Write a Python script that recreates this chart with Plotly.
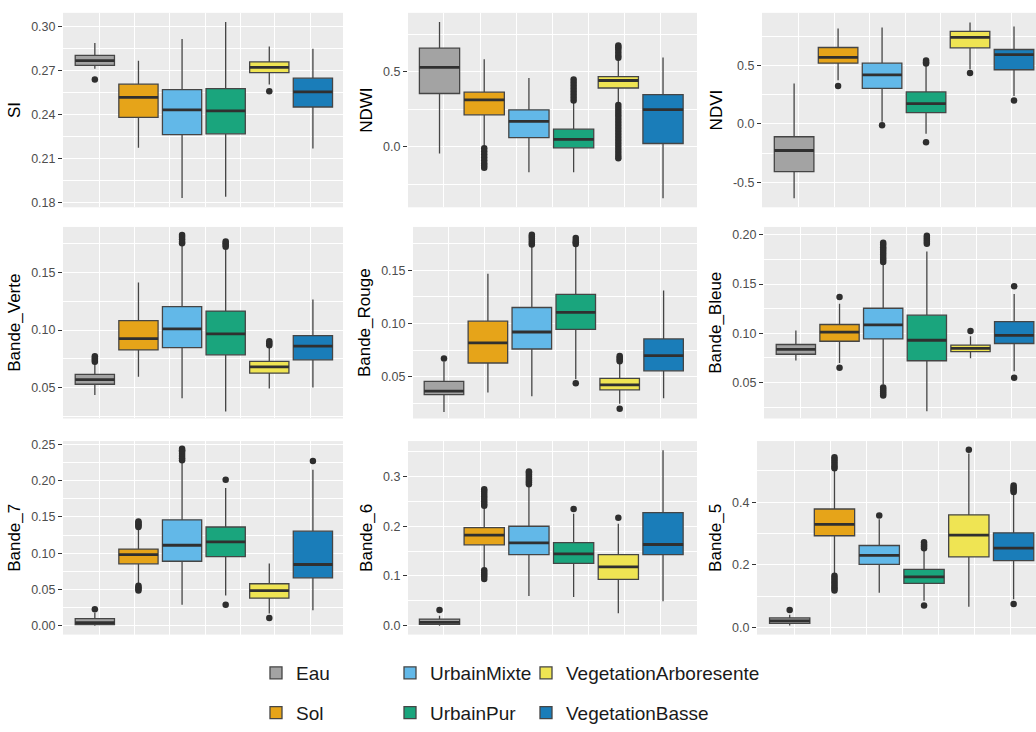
import plotly.graph_objects as go
from plotly.subplots import make_subplots

CLASSES = ["Eau", "Sol", "UrbainMixte", "UrbainPur", "VegetationArboresente", "VegetationBasse"]
COLORS = ["#A3A3A3", "#E6A419", "#62B8E8", "#1AA57D", "#EFE453", "#1A7DB9"]
VARIABLES = ["SI", "NDWI", "NDVI", "Bande_Verte", "Bande_Rouge", "Bande_Bleue", "Bande_7", "Bande_6", "Bande_5"]

# ---- box statistics per variable (lower whisker, q1, median, q3, upper whisker, outliers) ----
SI = dict(
    lo=[0.2712, 0.2172, 0.1829, 0.1838, 0.2605, 0.2168],
    q1=[0.2735, 0.2380, 0.2262, 0.2268, 0.2685, 0.2451],
    med=[0.2768, 0.2516, 0.2431, 0.2425, 0.2721, 0.2554],
    q3=[0.2804, 0.2607, 0.2570, 0.2576, 0.2759, 0.2648],
    hi=[0.2888, 0.2766, 0.2915, 0.3031, 0.2864, 0.2848],
    out=[[0.2639], [], [], [], [0.2558], []],
)
NDWI = dict(
    lo=[-0.044, 0.005, -0.170, -0.170, 0.290, -0.343],
    q1=[0.356, 0.214, 0.061, -0.007, 0.393, 0.022],
    med=[0.531, 0.314, 0.170, 0.050, 0.443, 0.249],
    q3=[0.659, 0.365, 0.247, 0.118, 0.469, 0.349],
    hi=[0.834, 0.585, 0.459, 0.300, 0.585, 0.596],
    out=[[],
         [-0.01, -0.03, -0.05, -0.07, -0.09, -0.11, -0.125, -0.14],
         [],
         [0.31, 0.33, 0.35, 0.37, 0.39, 0.41, 0.43, 0.45],
         [0.595, 0.61, 0.63, 0.65, 0.665, 0.677,
          0.28, 0.26, 0.24, 0.22, 0.20, 0.18, 0.16, 0.14, 0.12, 0.10,
          0.08, 0.06, 0.04, 0.02, 0.0, -0.02, -0.04, -0.06, -0.076],
         []],
)
NDVI = dict(
    lo=[-0.638, 0.376, 0.020, -0.084, 0.470, 0.240],
    q1=[-0.410, 0.522, 0.306, 0.098, 0.654, 0.466],
    med=[-0.228, 0.573, 0.421, 0.174, 0.744, 0.596],
    q3=[-0.110, 0.657, 0.522, 0.275, 0.795, 0.640],
    hi=[0.348, 0.820, 0.829, 0.505, 0.871, 0.837],
    out=[[], [0.326], [-0.011], [0.52, 0.53, 0.545, -0.157], [0.438], [0.202]],
)
Bande_Verte = dict(
    lo=[0.0435, 0.0594, 0.0406, 0.0290, 0.0491, 0.0500],
    q1=[0.0528, 0.0827, 0.0847, 0.0784, 0.0625, 0.0741],
    med=[0.0568, 0.0926, 0.1011, 0.0966, 0.0679, 0.0861],
    q3=[0.0614, 0.1082, 0.1205, 0.1165, 0.0727, 0.0952],
    hi=[0.0705, 0.1415, 0.1736, 0.1700, 0.0850, 0.1267],
    out=[[0.0725, 0.074, 0.0755, 0.0772], [], [0.1755, 0.177, 0.179, 0.181, 0.1828],
         [0.1725, 0.174, 0.1755, 0.1772], [0.0868, 0.0885, 0.0902], []],
)
Bande_Rouge = dict(
    lo=[0.0166, 0.0351, 0.0314, 0.0474, 0.0243, 0.0295],
    q1=[0.0329, 0.0628, 0.0760, 0.0945, 0.0375, 0.0554],
    med=[0.0363, 0.0818, 0.0920, 0.1105, 0.0422, 0.0698],
    q3=[0.0455, 0.1022, 0.1151, 0.1274, 0.0483, 0.0855],
    hi=[0.0640, 0.1468, 0.1720, 0.1730, 0.0635, 0.1311],
    out=[[0.0671], [], [0.1745, 0.176, 0.178, 0.180, 0.182, 0.1837],
         [0.175, 0.1765, 0.178, 0.1806, 0.0437], [0.0645, 0.066, 0.0678, 0.0695, 0.0197], []],
)
Bande_Bleue = dict(
    lo=[0.0725, 0.0699, 0.0480, 0.0209, 0.0748, 0.0616],
    q1=[0.0788, 0.0920, 0.0944, 0.0722, 0.0815, 0.0897],
    med=[0.0838, 0.1013, 0.1086, 0.0930, 0.0848, 0.0980],
    q3=[0.0887, 0.1090, 0.1255, 0.1185, 0.0881, 0.1119],
    hi=[0.1030, 0.1300, 0.1700, 0.1830, 0.0970, 0.1400],
    out=[[], [0.1368, 0.0652],
         [0.1725, 0.175, 0.1775, 0.18, 0.1825, 0.185, 0.1875, 0.19, 0.192,
          0.045, 0.043, 0.041, 0.039, 0.037],
         [0.191, 0.193, 0.195, 0.197, 0.199], [0.1023], [0.1477, 0.055]],
)
Bande_7 = dict(
    lo=[0.0, 0.058, 0.0292, 0.0418, 0.017, 0.0216],
    q1=[0.0018, 0.0854, 0.0890, 0.0953, 0.0382, 0.0661],
    med=[0.0045, 0.0980, 0.1110, 0.1156, 0.0486, 0.0845],
    q3=[0.0099, 0.1057, 0.1461, 0.1362, 0.0580, 0.1304],
    hi=[0.018, 0.134, 0.226, 0.190, 0.0859, 0.215],
    out=[[0.0229], [0.1362, 0.138, 0.140, 0.142, 0.1439, 0.0553, 0.053, 0.051, 0.0486],
         [0.228, 0.231, 0.234, 0.237, 0.240, 0.242, 0.244], [0.2014, 0.0292], [0.0108], [0.2271]],
)
Bande_6 = dict(
    lo=[0.0, 0.115, 0.0597, 0.0577, 0.0249, 0.0492],
    q1=[0.0027, 0.1625, 0.1428, 0.1252, 0.0931, 0.1428],
    med=[0.0066, 0.1821, 0.1664, 0.1441, 0.1180, 0.1631],
    q3=[0.0132, 0.1972, 0.1998, 0.1670, 0.1428, 0.2273],
    hi=[0.020, 0.238, 0.280, 0.225, 0.205, 0.3524],
    out=[[0.0315],
         [0.241, 0.245, 0.25, 0.255, 0.26, 0.265, 0.27, 0.274, 0.1114, 0.107, 0.103, 0.099, 0.0937],
         [0.284, 0.288, 0.292, 0.296, 0.300, 0.304, 0.308, 0.31], [0.2345], [0.2168], []],
)
Bande_5 = dict(
    lo=[0.0063, 0.170, 0.1104, 0.085, 0.0656, 0.090],
    q1=[0.0125, 0.2927, 0.2010, 0.1406, 0.2250, 0.2135],
    med=[0.0208, 0.3290, 0.2302, 0.1615, 0.2948, 0.2530],
    q3=[0.0302, 0.3780, 0.2615, 0.1854, 0.3594, 0.3020],
    hi=[0.040, 0.500, 0.345, 0.250, 0.555, 0.430],
    out=[[0.0552],
         [0.508, 0.515, 0.522, 0.529, 0.536, 0.543, 0.1646, 0.158, 0.151, 0.144, 0.137, 0.130, 0.124, 0.1177],
         [0.357], [0.253, 0.259, 0.265, 0.272, 0.0698], [0.5677], [0.432, 0.437, 0.442, 0.447, 0.453, 0.075]],
)
STATS = [SI, NDWI, NDVI, Bande_Verte, Bande_Rouge, Bande_Bleue, Bande_7, Bande_6, Bande_5]

# ---- axis settings (layout) ----
Y_RANGES = [[0.1766, 0.3094], [-0.404, 0.895], [-0.716, 0.955],
            [0.023, 0.1898], [0.0105, 0.191], [0.0136, 0.208],
            [-0.012, 0.2545], [-0.018, 0.371], [-0.023, 0.595]]
Y_TICKS = [[0.18, 0.21, 0.24, 0.27, 0.30], [0.0, 0.5], [-0.5, 0.0, 0.5],
           [0.05, 0.10, 0.15], [0.05, 0.10, 0.15], [0.05, 0.10, 0.15, 0.20],
           [0.0, 0.05, 0.10, 0.15, 0.20, 0.25], [0.0, 0.1, 0.2, 0.3], [0.0, 0.2, 0.4]]
Y_MINOR = [[0.195, 0.225, 0.255, 0.285], [-0.25, 0.25, 0.75], [-0.25, 0.25, 0.75],
           [0.025, 0.075, 0.125, 0.175], [0.025, 0.075, 0.125, 0.175], [0.025, 0.075, 0.125, 0.175],
           [0.025, 0.075, 0.125, 0.175, 0.225], [0.05, 0.15, 0.25, 0.35], [0.1, 0.3, 0.5]]
Y_DECIMALS = [2, 1, 1, 2, 2, 2, 2, 1, 1]

W, H = 1036, 732
# panel pixel boxes: (left, right) per panel, (top, bottom) per row
PANEL_X = [(63, 343), (408, 697), (762, 1036),
           (63, 343), (413, 697), (764, 1036),
           (63, 343), (408, 697), (757, 1036)]
ROW_Y = [(10, 208), (228, 423), (446, 643)]
X_RANGES = [[0.27, 6.69], [0.295, 6.76], [0.27, 6.50]]
X_MAJOR = [1.92, 3.53, 5.13]
X_MINOR = [1.10, 2.72, 4.33, 5.94]

BOX_W = 0.9
FONT = "Liberation Sans, Arial, sans-serif"

fig = make_subplots(rows=3, cols=3)

legend_for = {0: "legend", 1: "legend", 2: "legend2", 3: "legend2", 4: "legend3", 5: "legend3"}

for p, (var, st) in enumerate(zip(VARIABLES, STATS)):
    r, c = p // 3 + 1, p % 3 + 1
    for i, cls in enumerate(CLASSES):
        xi = i + 1
        fig.add_trace(go.Box(
            x=[xi], q1=[st["q1"][i]], median=[st["med"][i]], q3=[st["q3"][i]],
            lowerfence=[st["lo"][i]], upperfence=[st["hi"][i]],
            width=BOX_W, whiskerwidth=0, fillcolor=COLORS[i],
            line=dict(color="#454545", width=1.3),
            name=cls, legendgroup=cls, showlegend=(p == 0), legend=legend_for[i],
            hoverinfo="skip",
        ), row=r, col=c)
        if st["out"][i]:
            fig.add_trace(go.Scatter(
                x=[xi] * len(st["out"][i]), y=st["out"][i], mode="markers",
                marker=dict(color="#2E2E2E", size=6.5),
                showlegend=False, legendgroup=cls, hoverinfo="skip",
            ), row=r, col=c)
    # thicker median bars (ggplot style)
    mx, my = [], []
    for i, m in enumerate(st["med"]):
        mx += [i + 1 - BOX_W / 2, i + 1 + BOX_W / 2, None]
        my += [m, m, None]
    fig.add_trace(go.Scatter(x=mx, y=my, mode="lines", line=dict(color="#303030", width=2.8),
                             showlegend=False, hoverinfo="skip"), row=r, col=c)

for p, var in enumerate(VARIABLES):
    ax = "" if p == 0 else str(p + 1)
    l, rr = PANEL_X[p]
    t, b = ROW_Y[p // 3]
    fmt = "{:.%df}" % Y_DECIMALS[p]
    fig.layout["xaxis" + ax].update(
        domain=[l / W, min(rr / W, 1.0)], range=X_RANGES[p % 3],
        showticklabels=False, ticks="", zeroline=False, showline=False,
        tickvals=X_MAJOR, showgrid=True, gridcolor="white", gridwidth=1.2,
        minor=dict(tickvals=X_MINOR, showgrid=True, gridcolor="white", gridwidth=0.6, ticks=""),
    )
    fig.layout["yaxis" + ax].update(
        domain=[1 - b / H, 1 - t / H], range=Y_RANGES[p],
        tickvals=Y_TICKS[p], ticktext=[fmt.format(v) for v in Y_TICKS[p]],
        ticks="outside", ticklen=4, tickwidth=1, tickcolor="#333333",
        tickfont=dict(family=FONT, size=12.5, color="#4D4D4D"),
        showgrid=True, gridcolor="white", gridwidth=1.2, zeroline=False, showline=False,
        minor=dict(tickvals=Y_MINOR[p], showgrid=True, gridcolor="white", gridwidth=0.6, ticks=""),
        title=dict(text=var, font=dict(family=FONT, size=17, color="black"), standoff=6),
    )

leg_common = dict(orientation="v", xanchor="left", yanchor="top", bgcolor="rgba(0,0,0,0)",
                  font=dict(family=FONT, size=19, color="#1A1A1A"), tracegroupgap=12,
                  itemclick=False, itemdoubleclick=False)
fig.update_layout(
    width=W, height=H, margin=dict(l=0, r=0, t=0, b=0),
    paper_bgcolor="white", plot_bgcolor="#EBEBEB",
    font=dict(family=FONT),
    legend=dict(x=256 / W, y=1 - 663 / H, **leg_common),
    legend2=dict(x=390 / W, y=1 - 663 / H, **leg_common),
    legend3=dict(x=526 / W, y=1 - 663 / H, **leg_common),
)

fig.write_html("out.html", config={"displayModeBar": False},
               post_script="document.body.style.margin='0';document.body.style.overflow='hidden';")
